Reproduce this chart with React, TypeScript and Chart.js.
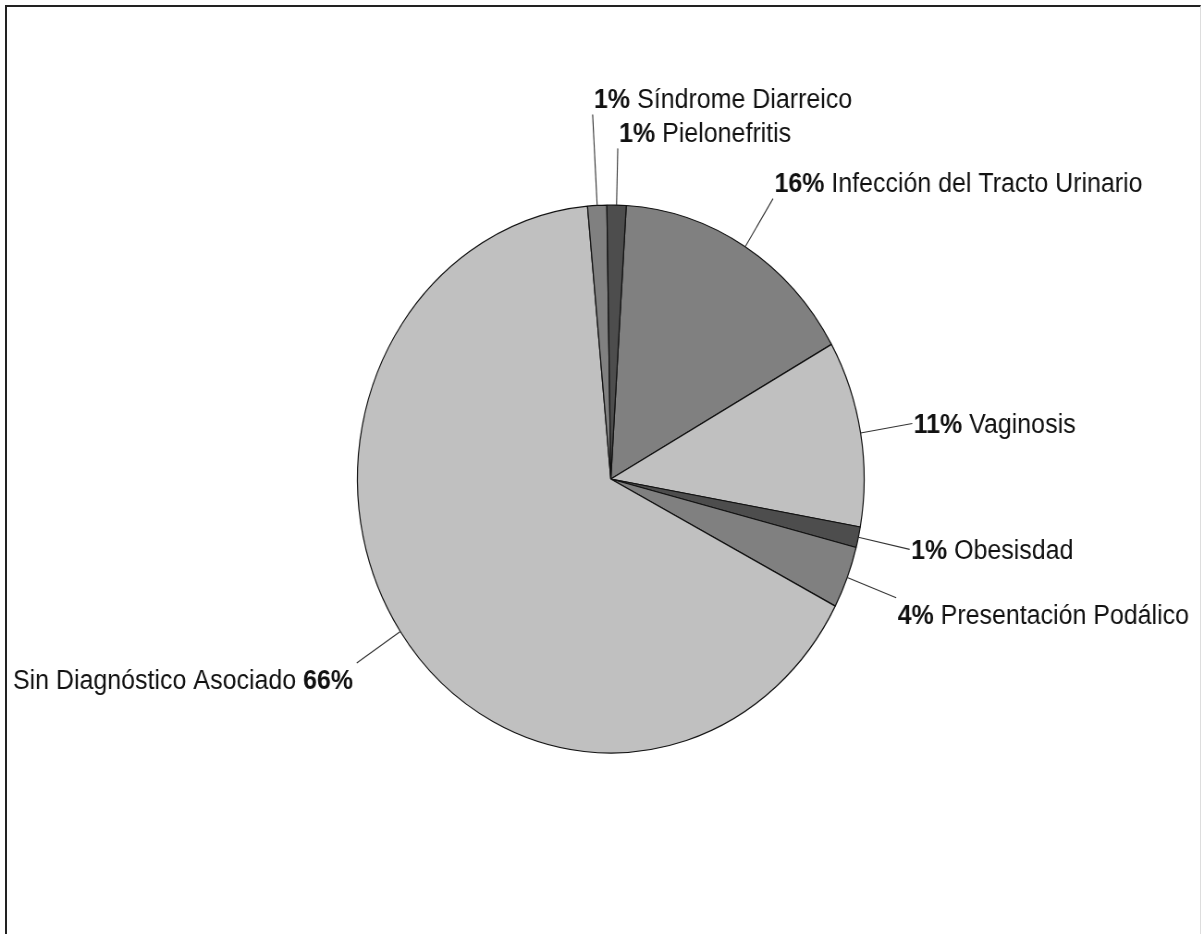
import React, { useEffect, useRef } from "react";
import { Chart, registerables } from "chart.js";

Chart.register(...registerables);

// ---- Data ----
const categories = [
  "Infección del Tracto Urinario",
  "Vaginosis",
  "Obesisdad",
  "Presentación Podálico",
  "Sin Diagnóstico Asociado",
  "Síndrome Diarreico",
  "Pielonefritis",
];
const counts = [13, 9, 1, 3, 54, 1, 1];
const sliceColors = ["#808080", "#c0c0c0", "#4d4d4d", "#808080", "#c0c0c0", "#808080", "#4d4d4d"];

// ---- Layout ----
const IMG_W = 1204;
const IMG_H = 934;
const SQUASH = 0.9247; // the reference is horizontally compressed
const CANVAS_W = Math.round(IMG_W / SQUASH);
const FONT_SIZE = 27;
const FONT_FAMILY = '"Liberation Sans", Arial, sans-serif';

type Box = { x0: number; x1: number; y0: number; y1: number };

const labelPlugin = {
  id: "pieLabels",
  afterDatasetsDraw(chart: any) {
    const ctx: CanvasRenderingContext2D = chart.ctx;
    const meta = chart.getDatasetMeta(0);
    const total = counts.reduce((a, b) => a + b, 0);
    const fontReg = `${FONT_SIZE}px ${FONT_FAMILY}`;
    const fontBold = `bold ${FONT_SIZE}px ${FONT_FAMILY}`;
    const lineH = 33;
    const capHalf = (FONT_SIZE * 0.716) / 2;
    const placed: Box[] = [];
    const items: any[] = [];
    const order = meta.data.map((_: any, i: number) => i).reverse();
    for (const i of order) {
      const arc = meta.data[i];
      const { x, y, startAngle, endAngle, outerRadius } = arc.getProps(
        ["x", "y", "startAngle", "endAngle", "outerRadius"],
        true
      );
      const mid = (startAngle + endAngle) / 2;
      const c = Math.cos(mid);
      const s = Math.sin(mid);
      const right = c >= -0.2;
      const pct = Math.round((counts[i] / total) * 100) + "%";
      ctx.font = fontBold;
      const wP = ctx.measureText(pct).width;
      ctx.font = fontReg;
      const nameText = right ? " " + categories[i] : categories[i] + " ";
      const wN = ctx.measureText(nameText).width;
      const w = wP + wN;
      const off = Math.abs(s) < 0.25 ? 0 : Math.sign(s) * 16;
      let f = 1.207;
      let ex = 0,
        ey = 0,
        box: Box = { x0: 0, x1: 0, y0: 0, y1: 0 };
      for (let k = 0; k < 300; k++) {
        ex = x + outerRadius * f * c;
        ey = y + outerRadius * f * s;
        const midY = ey + off;
        const x0 = right ? ex + 1.5 : ex - 4 - w;
        box = { x0, x1: x0 + w, y0: midY - lineH / 2, y1: midY + lineH / 2 };
        const hit = placed.some(
          (b) => b.x0 < box.x1 && box.x0 < b.x1 && b.y0 < box.y1 && box.y0 < b.y1
        );
        if (!hit) break;
        f += 0.005;
      }
      placed.push(box);
      items.push({
        sx: x + outerRadius * c,
        sy: y + outerRadius * s,
        ex,
        ey,
        box,
        right,
        pct,
        nameText,
        wP,
        wN,
        baseline: (box.y0 + box.y1) / 2 + capHalf,
      });
    }

    ctx.save();
    // leader lines
    ctx.strokeStyle = "#333333";
    ctx.lineWidth = 1.1;
    for (const it of items) {
      ctx.beginPath();
      ctx.moveTo(it.sx, it.sy);
      ctx.lineTo(it.ex, it.ey);
      ctx.stroke();
    }
    // texts
    ctx.fillStyle = "#111111";
    ctx.textBaseline = "alphabetic";
    ctx.textAlign = "left";
    for (const it of items) {
      if (it.right) {
        ctx.font = fontBold;
        ctx.fillText(it.pct, it.box.x0, it.baseline);
        ctx.font = fontReg;
        ctx.fillText(it.nameText, it.box.x0 + it.wP, it.baseline);
      } else {
        ctx.font = fontReg;
        ctx.fillText(it.nameText, it.box.x0, it.baseline);
        ctx.font = fontBold;
        ctx.fillText(it.pct, it.box.x0 + it.wN, it.baseline);
      }
    }
    ctx.restore();
  },
};

export default function App() {
  const ref = useRef<HTMLCanvasElement>(null);

  useEffect(() => {
    document.body.style.margin = "0";
    if (!ref.current) return;
    const chart = new Chart(ref.current, {
      type: "pie",
      data: {
        labels: categories,
        datasets: [
          {
            data: counts,
            backgroundColor: sliceColors,
            borderColor: "#111111",
            borderWidth: 1.2,
            hoverOffset: 0,
          },
        ],
      },
      options: {
        responsive: true,
        maintainAspectRatio: false,
        animation: false,
        rotation: 3.5,
        radius: 274,
        events: [],
        layout: { padding: { left: 19, right: 0, top: 24, bottom: 0 } },
        plugins: {
          legend: { display: false },
          tooltip: { enabled: false },
          title: { display: false },
        },
      } as any,
      plugins: [labelPlugin],
    });
    return () => chart.destroy();
  }, []);

  return (
    <div
      style={{
        position: "relative",
        width: IMG_W,
        height: IMG_H,
        overflow: "hidden",
        background: "#ffffff",
      }}
    >
      <div
        style={{
          position: "absolute",
          left: 0,
          top: 0,
          width: CANVAS_W,
          height: IMG_H,
          transform: `scaleX(${IMG_W / CANVAS_W})`,
          transformOrigin: "0 0",
        }}
      >
        <canvas ref={ref} />
      </div>
      <div
        style={{
          position: "absolute",
          left: 5,
          top: 5,
          width: 1196,
          height: 960,
          borderTop: "2px solid #222222",
          borderLeft: "2px solid #222222",
          borderRight: "1px solid #dddddd",
          boxSizing: "border-box",
          pointerEvents: "none",
        }}
      />
    </div>
  );
}
